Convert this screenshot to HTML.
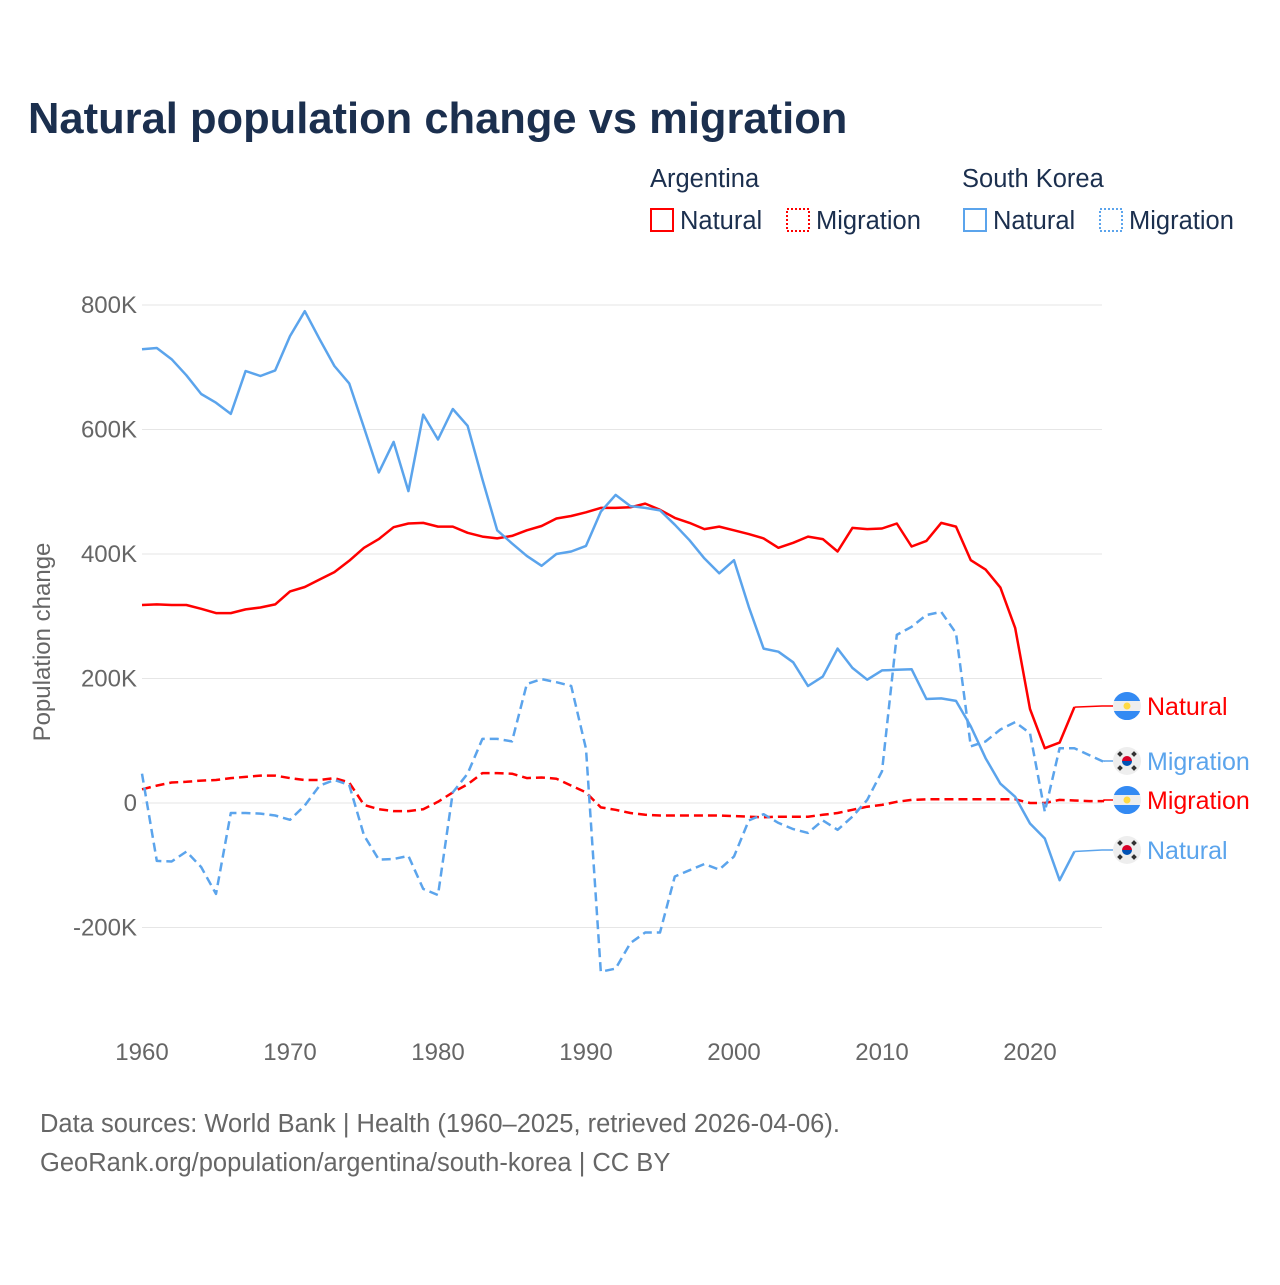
<!DOCTYPE html>
<html><head><meta charset="utf-8"><style>
body{margin:0;background:#fff;}
svg text{font-family:"Liberation Sans",sans-serif;}
</style></head><body>
<svg id="chart" width="1280" height="1280" viewBox="0 0 1280 1280" xmlns="http://www.w3.org/2000/svg">
<text x="28" y="133" font-size="43.5" font-weight="bold" fill="#1b2f4e">Natural population change vs migration</text>
<g font-size="25.5" fill="#1b2f4e">
<text x="650" y="187">Argentina</text>
<text x="962" y="187">South Korea</text>
<g><rect x="651" y="209" width="22" height="22" fill="none" stroke="#ff0000" stroke-width="2"/><text x="680" y="229">Natural</text></g>
<g><rect x="787" y="209" width="22" height="22" fill="none" stroke="#ff0000" stroke-width="2" stroke-dasharray="2,2"/><text x="816" y="229">Migration</text></g>
<g><rect x="964" y="209" width="22" height="22" fill="none" stroke="#5ba4ec" stroke-width="2"/><text x="993" y="229">Natural</text></g>
<g><rect x="1100" y="209" width="22" height="22" fill="none" stroke="#5ba4ec" stroke-width="2" stroke-dasharray="2,2"/><text x="1129" y="229">Migration</text></g>
</g>
<text transform="translate(50,642) rotate(-90)" text-anchor="middle" font-size="24" fill="#666">Population change</text>
<g id="grid"></g><g id="plot"></g><g id="labels"></g>
<text x="40" y="1132" font-size="25.5" fill="#666">Data sources: World Bank | Health (1960–2025, retrieved 2026-04-06).</text>
<text x="40" y="1171" font-size="25.5" fill="#666">GeoRank.org/population/argentina/south-korea | CC BY</text>
</svg>
<script>
const yTicks=[800000,600000,400000,200000,0,-200000];
const yTickLabels=["800K","600K","400K","200K","0","-200K"];
const xTicks=[1960,1970,1980,1990,2000,2010,2020];
const arNatural=[318,319,318,318,312,305,305,311,314,319,340,347,359,371,389,410,424,443,449,450,444,444,434,428,425,429,438,445,457,461,467,474,474,475,481,471,458,450,440,444,438,432,425,410,418,428,424,404,442,440,441,449,412,421,450,444,390,375,346,281,151,88,97,154];
const arMigration=[22,28,33,34,36,37,40,42,44,44,40,37,37,40,33,-3,-10,-13,-13,-10,2,17,30,48,48,47,40,41,39,28,17,-7,-11,-16,-19,-20,-20,-20,-20,-20,-21,-22,-23,-22,-22,-22,-19,-16,-11,-6,-3,2,5,6,6,6,6,6,6,6,0,0,5,4,3,3];
const krNatural=[729,731,713,687,657,643,625,694,686,695,750,790,745,702,674,603,531,580,501,624,584,633,606,520,438,417,397,381,400,404,413,468,495,477,474,470,447,422,393,369,390,315,248,243,226,188,203,248,217,198,213,214,215,167,168,164,123,72,31,10,-33,-57,-124,-78];
const krMigration=[47,-93,-94,-78,-103,-146,-16,-16,-17,-20,-27,-4,28,37,29,-52,-91,-90,-85,-138,-148,17,47,103,103,99,191,199,194,188,87,-271,-266,-225,-208,-208,-118,-108,-98,-107,-86,-28,-18,-32,-42,-48,-28,-43,-22,5,51,270,283,302,307,273,91,99,118,130,112,-14,88,88,77,66];
const startYear=1960;
const xs=y=>142+(y-1960)*14.8;
const ys=v=>803-v/200000*124.5;
const NS="http://www.w3.org/2000/svg";
function mk(tag,attrs,parent){const e=document.createElementNS(NS,tag);for(const k in attrs)e.setAttribute(k,attrs[k]);parent.appendChild(e);return e;}
const grid=document.getElementById('grid'),plot=document.getElementById('plot'),labels=document.getElementById('labels');
yTicks.forEach((t,i)=>{
  const l=mk('line',{x1:142,x2:1102,y1:ys(t),y2:ys(t),stroke:'#e6e6e6','stroke-width':1},grid);
  
  
  const tx=mk('text',{x:137,y:ys(t)+8,'text-anchor':'end','font-size':24,fill:'#666'},grid);
  tx.textContent=yTickLabels[i];
  
  
});
xTicks.forEach(t=>{
  const tx=mk('text',{x:xs(t),y:1060,'text-anchor':'middle','font-size':24,fill:'#666'},grid);
  tx.textContent=t;
  
  
});
function series(arr,color,dash,name){
  const pts=arr.map((v,i)=>xs(startYear+i).toFixed(1)+','+ys(v*1000).toFixed(1)).join(' ');
  const p=mk('polyline',{points:pts,fill:'none',stroke:color,'stroke-width':2.5,'stroke-linejoin':'round'},plot);
  if(dash)p.setAttribute('stroke-dasharray','9,5');
  
  
  return [xs(startYear+arr.length-1),ys(arr[arr.length-1]*1000)];
}
function flag(kind,cx,cy,g){
  if(kind==='ar'){
    mk('circle',{cx:cx,cy:cy,r:14,fill:'#eeeeee'},g);
    mk('path',{d:`M${cx-13.1},${cy-5} A14,14 0 0 1 ${cx+13.1},${cy-5} Z`,fill:'#338af3'},g);
    mk('path',{d:`M${cx-13.1},${cy+5} A14,14 0 0 0 ${cx+13.1},${cy+5} Z`,fill:'#338af3'},g);
    mk('circle',{cx:cx,cy:cy,r:3.5,fill:'#ffda44'},g);
  }else{
    mk('circle',{cx:cx,cy:cy,r:14,fill:'#eeeeee'},g);
    mk('path',{d:`M${cx-5},${cy} A5,5 0 0 1 ${cx+5},${cy} Z`,fill:'#d80027'},g);
    mk('path',{d:`M${cx-5},${cy} A5,5 0 0 0 ${cx+5},${cy} Z`,fill:'#0052b4'},g);
    [[-7,-7],[7,-7],[-7,7],[7,7]].forEach(([dx,dy])=>mk('rect',{x:cx+dx-2,y:cy+dy-2,width:4,height:4,fill:'#333',transform:`rotate(45 ${cx+dx} ${cy+dy})`},g));
  }
}
function endLabel(end,ly,color,kind,text,name){
  const g=mk('g',{},labels);
  
  
  mk('polyline',{points:`${end[0]},${end[1]} ${Math.max(end[0],1102)},${ly} 1113,${ly}`,fill:'none',stroke:color,'stroke-width':1.5},g);
  flag(kind,1127,ly,g);
  const t=mk('text',{x:1147,y:ly+9,'font-size':25,fill:color},g);
  t.textContent=text;
}
const e1=series(arNatural,'#ff0000',false,'line-argentina-natural');
const e2=series(arMigration,'#ff0000',true,'line-argentina-migration');
const e3=series(krNatural,'#5ba4ec',false,'line-korea-natural');
const e4=series(krMigration,'#5ba4ec',true,'line-korea-migration');
endLabel(e1,706,'#ff0000','ar','Natural','end-label-argentina-natural');
endLabel(e4,761,'#5ba4ec','kr','Migration','end-label-korea-migration');
endLabel(e2,800,'#ff0000','ar','Migration','end-label-argentina-migration');
endLabel(e3,850,'#5ba4ec','kr','Natural','end-label-korea-natural');
</script>
</body></html>
